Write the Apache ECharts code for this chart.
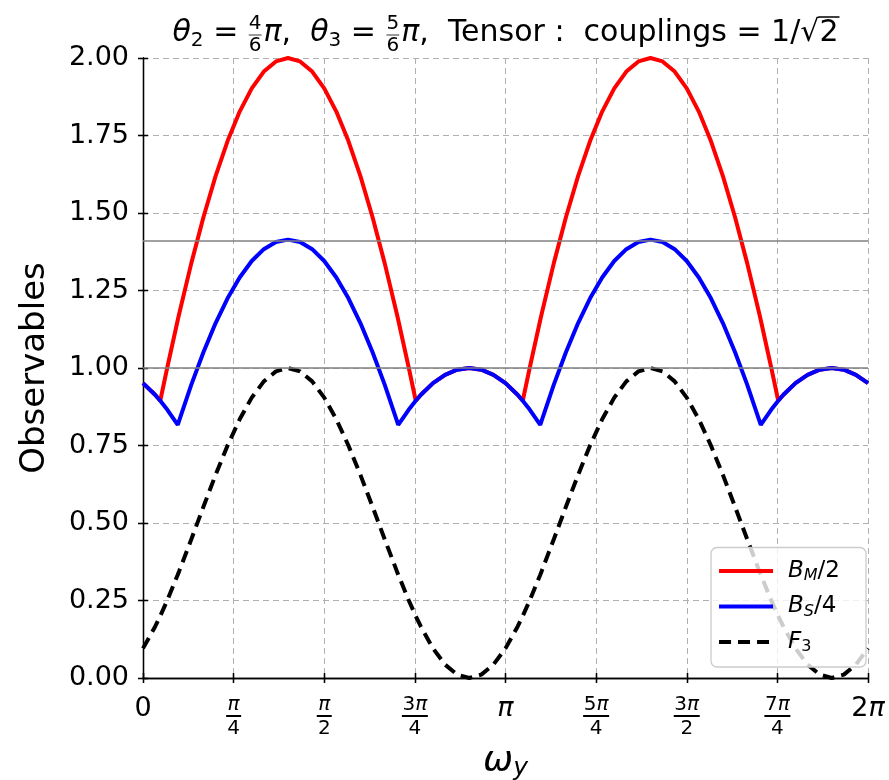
<!DOCTYPE html>
<html>
<head>
<meta charset="utf-8">
<script src="https://cdn.jsdelivr.net/npm/echarts@6/dist/echarts.min.js"></script>
<style>
  html, body { margin: 0; padding: 0; background: #ffffff; }
  #chart { width: 889px; height: 780px; }
</style>
</head>
<body>
<div id="chart"></div>
<script>
// ω_y sample positions, in units of π
const omegaY = [
  0, 0.0333, 0.0476, 0.0667, 0.0959, 0.1, 0.1333, 0.1667, 0.2, 0.2333, 0.2667, 0.3, 0.3333, 0.3667, 0.4,
  0.4333, 0.4667, 0.5, 0.5333, 0.5667, 0.6, 0.6333, 0.6667, 0.7, 0.7041, 0.7333, 0.7524, 0.7667, 0.8, 0.8333, 0.8667, 0.9,
  0.9333, 0.9667, 1, 1.0333, 1.0476, 1.0667, 1.0959, 1.1, 1.1333, 1.1667, 1.2, 1.2333, 1.2667, 1.3, 1.3333, 1.3667, 1.4,
  1.4333, 1.4667, 1.5, 1.5333, 1.5667, 1.6, 1.6333, 1.6667, 1.7, 1.7041, 1.7333, 1.7524, 1.7667, 1.8, 1.8333, 1.8667, 1.9, 1.9333, 1.9667, 2
];

// B_M / 2
const bmHalf = [
  0.9511, 0.9136, 0.8944, 1.0, 1.1547, 1.1756, 1.3383, 1.4863, 1.618, 1.7321, 1.8271, 1.9021, 1.9563, 1.989, 2,
  1.989, 1.9563, 1.9021, 1.8271, 1.7321, 1.618, 1.4863, 1.3383, 1.1756, 1.1547, 1.0, 0.8944, 0.9136, 0.9511, 0.9781, 0.9945, 1,
  0.9945, 0.9781, 0.9511, 0.9136, 0.8944, 1.0, 1.1547, 1.1756, 1.3383, 1.4863, 1.618, 1.7321, 1.8271, 1.9021, 1.9563, 1.989, 2,
  1.989, 1.9563, 1.9021, 1.8271, 1.7321, 1.618, 1.4863, 1.3383, 1.1756, 1.1547, 1.0, 0.8944, 0.9136, 0.9511, 0.9781, 0.9945, 1, 0.9945, 0.9781, 0.9511
];

// B_S / 4
const bsQuarter = [
  0.9511, 0.9136, 0.8944, 0.866, 0.8165, 0.8313, 0.9463, 1.051, 1.1441, 1.2247, 1.2919, 1.345, 1.3833, 1.4065, 1.4142,
  1.4065, 1.3833, 1.345, 1.2919, 1.2247, 1.1441, 1.051, 0.9463, 0.8313, 0.8165, 0.866, 0.8944, 0.9136, 0.9511, 0.9781, 0.9945, 1,
  0.9945, 0.9781, 0.9511, 0.9136, 0.8944, 0.866, 0.8165, 0.8313, 0.9463, 1.051, 1.1441, 1.2247, 1.2919, 1.345, 1.3833, 1.4065, 1.4142,
  1.4065, 1.3833, 1.345, 1.2919, 1.2247, 1.1441, 1.051, 0.9463, 0.8313, 0.8165, 0.866, 0.8944, 0.9136, 0.9511, 0.9781, 0.9945, 1, 0.9945, 0.9781, 0.9511
];

// F_3
const f3 = [
  0.0955, 0.1654, 0.2, 0.25, 0.3333, 0.3455, 0.4477, 0.5523, 0.6545, 0.75, 0.8346, 0.9045, 0.9568, 0.9891, 1,
  0.9891, 0.9568, 0.9045, 0.8346, 0.75, 0.6545, 0.5523, 0.4477, 0.3455, 0.3333, 0.25, 0.2, 0.1654, 0.0955, 0.0432, 0.0109, 0,
  0.0109, 0.0432, 0.0955, 0.1654, 0.2, 0.25, 0.3333, 0.3455, 0.4477, 0.5523, 0.6545, 0.75, 0.8346, 0.9045, 0.9568, 0.9891, 1,
  0.9891, 0.9568, 0.9045, 0.8346, 0.75, 0.6545, 0.5523, 0.4477, 0.3455, 0.3333, 0.25, 0.2, 0.1654, 0.0955, 0.0432, 0.0109, 0, 0.0109, 0.0432, 0.0955
];

// horizontal reference levels: 1 and √2
const refLevels = [1, 1.4142];

const seriesNames = ['B_M/2', 'B_S/4', 'F_3'];
const xTickLabels = ['0', 'π/4', 'π/2', '3π/4', 'π', '5π/4', '3π/2', '7π/4', '2π'];
const xStep = 0.25;
const yStep = 0.25;

const FF = '"DejaVu Sans", sans-serif';

const titleParts = [
  { t: 'θ', it: true }, { t: '2', sub: true }, { t: ' = ' }, { frac: ['4', '6'] }, { t: 'π', it: true }, { t: ',  ' },
  { t: 'θ', it: true }, { t: '3', sub: true }, { t: ' = ' }, { frac: ['5', '6'] }, { t: 'π', it: true },
  { t: ',  Tensor :  couplings = 1/' }, { sqrt: '2' }
];

function zip(xs, ys) { return xs.map((x, i) => [x, ys[i]]); }

// x tick label as rich text: stacked fraction for π/n labels
function xLabelRich(label) {
  const withPi = (s, plain, ital) => {
    const digits = s.replace('π', '');
    let out = digits ? `{${plain}|${digits}}` : '';
    if (s.indexOf('π') >= 0) out += `{${ital}|π}`;
    return out;
  };
  if (label.indexOf('/') >= 0) {
    const [num, den] = label.split('/');
    const bar = num.length > 1 ? 'bar2' : 'bar1';
    return withPi(num, 'n', 'ni') + `\n{${bar}|}\n{d|${den}}`;
  }
  return withPi(label, 'w', 'wi');
}

function legendRich(name) {
  const m = name.match(/^([A-Z])_([A-Za-z0-9])(.*)$/);
  const subStyle = /[0-9]/.test(m[2]) ? 's' : 'si';
  return `{sp|}{i|${m[1]}}{${subStyle}|${m[2]}}` + (m[3] ? `{r|${m[3]}}` : '');
}

function buildTitle(centerX, midY) {
  const ctx = document.createElement('canvas').getContext('2d');
  const BIG = 30, SMALL = 20;
  const font = (size, italic) => `${italic ? 'italic ' : ''}${size}px "DejaVu Sans"`;
  const measure = (t, size, italic) => { ctx.font = font(size, italic); return ctx.measureText(t).width; };
  const els = [];
  const txt = (t, size, italic, x, y, align) => els.push({
    type: 'text', x: x, y: y,
    style: { text: t, font: font(size, italic), fill: '#000', align: align || 'left', verticalAlign: 'middle',
             textAlign: align || 'left', textVerticalAlign: 'middle' }
  });
  let x = 0;
  titleParts.forEach(p => {
    if (p.frac) {
      const w = Math.max(measure(p.frac[0], SMALL), measure(p.frac[1], SMALL)) + 2;
      txt(p.frac[0], SMALL, false, x + w / 2, -9, 'center');
      txt(p.frac[1], SMALL, false, x + w / 2, 13, 'center');
      els.push({ type: 'line', shape: { x1: x + 1, y1: 2, x2: x + w - 1, y2: 2 }, style: { stroke: '#000', lineWidth: 0.8 } });
      x += w + 1;
    } else if (p.sqrt) {
      const w1 = measure('√', BIG);
      const w2 = measure(p.sqrt, BIG);
      txt('√', BIG, false, x, 0);
      txt(p.sqrt, BIG, false, x + w1, 0);
      els.push({ type: 'line', shape: { x1: x + w1 - 1, y1: -16, x2: x + w1 + w2 + 1, y2: -16 }, style: { stroke: '#000', lineWidth: 1.5 } });
      x += w1 + w2;
    } else {
      const size = p.sub ? SMALL : BIG;
      txt(p.t, size, p.it, x, p.sub ? 8 : 0);
      x += measure(p.t, size, p.it);
    }
  });
  return { type: 'group', x: centerX - x / 2, y: midY, children: els };
}

const axisLineStyle = { color: '#000', width: 1.3 };
const tickStyle = { color: '#000', width: 1.3 };

function xAxisDef(position, inside, main) {
  return {
    type: 'value', min: 0, max: 2, interval: xStep, position: position,
    axisLine: { show: !inside, lineStyle: axisLineStyle },
    axisTick: { show: true, inside: inside, length: 5, lineStyle: tickStyle },
    axisLabel: main ? {
      show: true, margin: 17, color: '#000',
      formatter: v => xLabelRich(xTickLabels[Math.round(v / xStep)]),
      rich: {
        w: { fontSize: 27, fontFamily: FF, color: '#000', lineHeight: 28, align: 'center' },
        wi: { fontSize: 27, fontFamily: FF, fontStyle: 'italic', color: '#000', lineHeight: 28, align: 'center' },
        n: { fontSize: 20, fontFamily: FF, color: '#000', lineHeight: 19, align: 'center' },
        ni: { fontSize: 20, fontFamily: FF, fontStyle: 'italic', color: '#000', lineHeight: 19, align: 'center' },
        d: { fontSize: 20, fontFamily: FF, color: '#000', lineHeight: 21, align: 'center' },
        bar1: { width: 15, height: 2, lineHeight: 4, backgroundColor: '#000', align: 'center' },
        bar2: { width: 26, height: 2, lineHeight: 4, backgroundColor: '#000', align: 'center' }
      }
    } : { show: false },
    splitLine: main ? { show: true, lineStyle: { color: '#b0b0b0', width: 1, type: [6, 4] } } : { show: false },
    name: main ? '{i|ω}{s|y}' : '',
    nameLocation: 'middle', nameGap: 54,
    nameTextStyle: {
      rich: {
        i: { fontSize: 36, fontFamily: FF, fontStyle: 'italic', color: '#000', lineHeight: 40 },
        s: { fontSize: 25, fontFamily: FF, fontStyle: 'italic', color: '#000', lineHeight: 24, verticalAlign: 'bottom' }
      }
    }
  };
}

function yAxisDef(position, inside, main) {
  return {
    type: 'value', min: 0, max: 2, interval: yStep, position: position,
    axisLine: { show: !inside, lineStyle: axisLineStyle },
    axisTick: { show: true, inside: inside, length: 5, lineStyle: tickStyle },
    axisLabel: main ? { show: true, margin: 14, color: '#000', fontSize: 27, fontFamily: FF, formatter: v => v.toFixed(2) } : { show: false },
    splitLine: main ? { show: true, lineStyle: { color: '#b0b0b0', width: 1, type: [6, 4] } } : { show: false },
    name: main ? 'Observables' : '',
    nameLocation: 'middle', nameGap: 91,
    nameTextStyle: { fontSize: 34, fontFamily: FF, color: '#000' }
  };
}

const chart = echarts.init(document.getElementById('chart'), null, { renderer: 'canvas' });

chart.setOption({
  animation: false,
  backgroundColor: '#ffffff',
  grid: { left: 143, right: 21, top: 58, bottom: 102, containLabel: false, outerBoundsMode: 'none' },
  xAxis: [
    xAxisDef('bottom', false, true),
    xAxisDef('bottom', true, false),
    xAxisDef('top', false, false),
    xAxisDef('top', true, false)
  ],
  yAxis: [
    yAxisDef('left', false, true),
    yAxisDef('left', true, false),
    yAxisDef('right', false, false),
    yAxisDef('right', true, false)
  ],
  legend: {
    orient: 'vertical', right: 23, bottom: 113,
    data: seriesNames,
    itemWidth: 54, itemHeight: 14, itemGap: 11,
    padding: [12, 26, 12, 6],
    backgroundColor: 'rgba(255,255,255,0.8)',
    borderColor: '#cccccc', borderWidth: 1.3, borderRadius: 6,
    itemStyle: { opacity: 0 },
    lineStyle: { width: 4 },
    formatter: legendRich,
    textStyle: {
      fontFamily: FF, color: '#000',
      rich: {
        sp: { width: 10 },
        i: { fontSize: 23, fontFamily: FF, fontStyle: 'italic', color: '#000', lineHeight: 26 },
        si: { fontSize: 16, fontFamily: FF, fontStyle: 'italic', color: '#000', lineHeight: 15, verticalAlign: 'bottom' },
        s: { fontSize: 16, fontFamily: FF, color: '#000', lineHeight: 15, verticalAlign: 'bottom' },
        r: { fontSize: 23, fontFamily: FF, color: '#000', lineHeight: 26 }
      }
    }
  },
  graphic: [buildTitle(505.5, 33)],
  series: [
    {
      type: 'line', name: 'reference', data: [], silent: true,
      markLine: {
        silent: true, symbol: ['none', 'none'], label: { show: false },
        lineStyle: { color: '#808080', width: 1.5, type: 'solid' },
        data: refLevels.map(v => ({ yAxis: v }))
      }
    },
    {
      type: 'line', name: seriesNames[0], data: zip(omegaY, bmHalf),
      symbol: 'none', showSymbol: false, clip: true,
      lineStyle: { color: '#ff0000', width: 4 }, itemStyle: { color: '#ff0000' }
    },
    {
      type: 'line', name: seriesNames[1], data: zip(omegaY, bsQuarter),
      symbol: 'none', showSymbol: false, clip: true,
      lineStyle: { color: '#0000ff', width: 4 }, itemStyle: { color: '#0000ff' }
    },
    {
      type: 'line', name: seriesNames[2], data: zip(omegaY, f3),
      symbol: 'none', showSymbol: false, clip: true,
      lineStyle: { color: '#000000', width: 4, type: [12, 7] }, itemStyle: { color: '#000000' }
    }
  ]
});
</script>
</body>
</html>
